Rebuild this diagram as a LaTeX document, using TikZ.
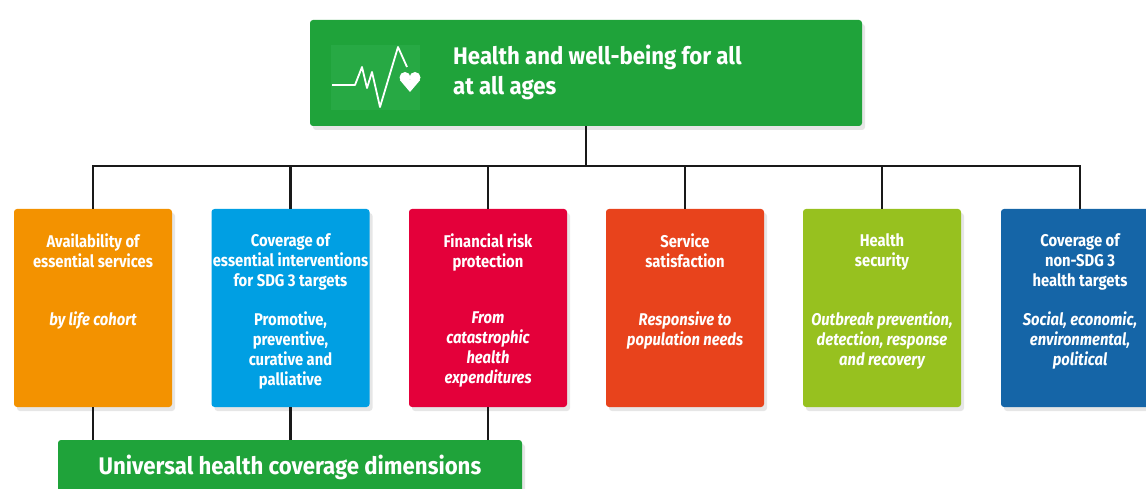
\documentclass[tikz,border=0pt]{standalone}
\usepackage{fontspec}
\setmainfont{Fira Sans}
\newfontfamily\headfont{Fira Sans}[FakeStretch=0.925]
\newfontfamily\narrowfont{Fira Sans}[FakeStretch=0.87]
\usetikzlibrary{shadows}
\definecolor{sdggreen}{HTML}{1FA33A}
\definecolor{icongreen}{HTML}{27A944}
\definecolor{availorange}{HTML}{F39200}
\definecolor{coverblue}{HTML}{009FE3}
\definecolor{riskred}{HTML}{E4003A}
\definecolor{satisred}{HTML}{E8431C}
\definecolor{securelime}{HTML}{97C11F}
\definecolor{nonsdgblue}{HTML}{1565A7}
\tikzset{
    card/.style={rounded corners=3pt, minimum width=158pt, minimum height=198pt, inner sep=0pt,
        drop shadow={opacity=.2, shadow xshift=3pt, shadow yshift=-4pt}},
    head/.style={anchor=north, align=center, inner sep=0pt, text=white,
        font=\narrowfont\bfseries\fontsize{17}{20}\selectfont},
    sub/.style={head, font=\narrowfont\bfseries#1\fontsize{17}{20}\selectfont},
    link/.style={line width=2.5pt, black!90},
}
\begin{document}
\begin{tikzpicture}[x=1pt, y=-1pt]
\useasboundingbox (0,0) rectangle (1146,489);
\clip (0,0) rectangle (1146,489);
% goal
\node[fill=sdggreen, rounded corners=3pt, minimum width=552pt, minimum height=106pt,
    drop shadow={opacity=.2, shadow xshift=3pt, shadow yshift=-4pt}] (health) at (586,73) {};
\fill[icongreen] (331,45) rectangle (420,110);
\draw[white, line width=1.8pt, line join=round] (332,85) -- (355,85) -- (362,67) -- (367,88)
    -- (372,72) -- (380,107) -- (398,47) -- (407,67);
\fill[white] (405,77.5) circle (5.5) (415,77.5) circle (5.5) (399.8,80) -- (420.2,80) -- (410,92) -- cycle;
\node[anchor=west, align=left, inner sep=0pt, text=white,
    font=\headfont\bfseries\fontsize{24}{30}\selectfont] (goal) at (453,72)
    {Health and well-being for all\\at all ages};
\path (health.south) ++(0,40) coordinate (hub);
\draw[link] (health.south) -- (hub);
% dimensions
\foreach \n/\x/\col/\head/\shp/\sub in {
    1/93/availorange/{Availability of\\essential services}/\itshape/{by life cohort},
    2/290.5/coverblue/{Coverage of\\essential interventions\\for SDG 3 targets}/\upshape/{Promotive,\\preventive,\\curative and\\palliative},
    3/488/riskred/{Financial risk\\protection}/\itshape/{From\\catastrophic\\health\\expenditures},
    4/685/satisred/{Service\\satisfaction}/\itshape/{Responsive to\\population needs},
    5/882/securelime/{Health\\security}/\itshape/{Outbreak prevention,\\detection, response\\and recovery},
    6/1080/nonsdgblue/{Coverage of\\non-SDG 3\\health targets}/\itshape/{Social, economic,\\environmental,\\political}}
{
    \node[card, fill=\col] (c\n) at (\x,308) {};
    \node[head] (h\n) at ([yshift=-25pt]c\n.north) {\head};
    \node[sub=\shp] (s\n) at ([yshift=-103pt]c\n.north) {\sub};
}
\draw[link] (c1.north) |- (hub) -| (c6.north);
\foreach \n in {2,...,5}
    \draw[link] (c\n.north) -- (c\n.north |- hub);
% uhc
\node[fill=sdggreen, rounded corners=3pt, minimum width=464pt, minimum height=54pt, text=white,
    font=\headfont\bfseries\fontsize{24}{28}\selectfont,
    drop shadow={opacity=.2, shadow xshift=3pt, shadow yshift=-4pt}] (uhc) at (290,467)
    {Universal health coverage dimensions};
\foreach \n in {1,2,3}
    \draw[link] (c\n.south) -- (c\n.south |- uhc.north);
\end{tikzpicture}
\end{document}
